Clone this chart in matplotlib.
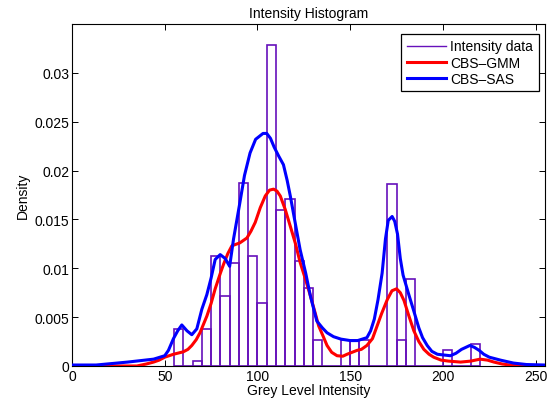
import matplotlib
matplotlib.use("Agg")
import matplotlib.pyplot as plt
from matplotlib.lines import Line2D

plt.rcParams['font.family'] = ['Liberation Sans', 'DejaVu Sans']

# Histogram: left bin edges (width 5) and densities
bin_left = [55, 60, 65, 70, 75, 80, 85, 90, 95, 100, 105, 110, 115, 120, 125, 130,
            135, 140, 145, 150, 155, 160, 165, 170, 175, 180, 185, 190, 195, 200,
            205, 210, 215]
bin_density = [0.0038, 0.0, 0.0005, 0.0038, 0.0113, 0.0072, 0.0105, 0.0187, 0.0113,
               0.0064, 0.0329, 0.0160, 0.0171, 0.0107, 0.0080, 0.0027,
               0.0, 0.0, 0.0027, 0.0027, 0.0027, 0.0, 0.0, 0.0186, 0.0027, 0.0089,
               0.0, 0.0, 0.0, 0.0016, 0.0, 0.0, 0.0022]
bin_width = 5

# CBS-GMM curve
gmm_x = [0, 35, 40, 44, 47, 50, 54.7, 60, 62.5, 64.6, 67, 69, 72.7, 75, 77.2, 80, 81.7,
         84, 86.2, 90.5, 94.3, 96.5, 98.8, 101.5, 104.2, 106.5, 108.7, 110.5, 112.3,
         115, 117.7, 120.5, 123, 126, 128.5, 131, 133, 135.5, 137.5, 140, 142.9, 146,
         148.3, 151, 153.7, 156, 159, 162, 164.5, 167, 170, 172.5, 175, 177, 179,
         181.5, 184.3, 187, 189.7, 192.5, 195, 199, 203, 209.5, 215, 220, 224, 227.5,
         232, 236, 242, 255]
gmm_y = [0, 0, 0.0002, 0.0004, 0.0006, 0.0009, 0.0012, 0.00145, 0.0017, 0.0021, 0.0027,
         0.0034, 0.0051, 0.0064, 0.0079, 0.0095, 0.0104, 0.0115, 0.0123, 0.0126, 0.0131,
         0.0138, 0.0147, 0.0162, 0.0174, 0.0180, 0.0181, 0.0179, 0.0174, 0.0160, 0.0143,
         0.0125, 0.0106, 0.0088, 0.0072, 0.0055, 0.0041, 0.0030, 0.0021, 0.0014, 0.00105,
         0.0010, 0.0012, 0.0014, 0.0016, 0.0017, 0.0021, 0.0028, 0.0041, 0.0054, 0.0068,
         0.0077, 0.0079, 0.0075, 0.0067, 0.0052, 0.0036, 0.0025, 0.0017, 0.0012, 0.0009,
         0.0006, 0.0005, 0.0004, 0.0005, 0.0007, 0.0006, 0.0004, 0.0002, 0.0001, 0, 0]

# CBS-SAS curve
sas_x = [0, 13, 30, 44, 50, 52, 54.7, 57, 59.2, 62, 64.6, 67.3, 70, 72.7, 75, 77.2, 79.9,
         82.6, 85, 87.1, 90.5, 93, 96, 99, 103, 105, 107, 109, 111.4, 114, 116, 117.7,
         120, 123, 126, 128.5, 130.5, 132, 135, 137.5, 141, 145, 150, 154, 159, 161, 163,
         165, 167.2, 169, 170.5, 172.6, 174, 175.5, 177, 178.5, 181.6, 184, 187, 189,
         191.5, 194, 197, 204, 207, 210, 214.5, 217, 219.5, 222, 225, 231, 238, 245, 255]
sas_y = [0.0001, 0.0001, 0.0004, 0.0007, 0.00105, 0.0016, 0.0028, 0.0036, 0.0042, 0.0036,
         0.0032, 0.0038, 0.0058, 0.0073, 0.0090, 0.0109, 0.0114, 0.0110, 0.0102, 0.0130,
         0.0167, 0.0195, 0.0218, 0.0232, 0.0238, 0.0238, 0.0233, 0.0224, 0.0215, 0.0206,
         0.0190, 0.0174, 0.0150, 0.0119, 0.0095, 0.0072, 0.0057, 0.0046, 0.0039, 0.0034,
         0.0030, 0.00275, 0.0026, 0.0026, 0.0029, 0.0036, 0.0048, 0.0068, 0.0095, 0.0130,
         0.0149, 0.0153, 0.0148, 0.0135, 0.0110, 0.0093, 0.0073, 0.0058, 0.0039, 0.0029,
         0.0021, 0.0015, 0.0012, 0.00105, 0.0013, 0.0017, 0.0021, 0.0019, 0.0016, 0.0012,
         0.0009, 0.0006, 0.0003, 0.00015, 0.0001]

x_ticks = [0, 50, 100, 150, 200, 250]
y_ticks = [0, 0.005, 0.01, 0.015, 0.02, 0.025, 0.03]
y_tick_labels = ['0', '0.005', '0.01', '0.015', '0.02', '0.025', '0.03']

hist_color = '#6611BB'
fs = 10

fig = plt.figure(figsize=(5.47, 4.02), dpi=100)
ax = fig.add_axes([0.1316, 0.0871, 0.8647, 0.8507])

ax.bar(bin_left, bin_density, width=bin_width, align='edge', fill=False,
       edgecolor=hist_color, linewidth=1.2, zorder=2)
ax.plot(gmm_x, gmm_y, color='#FF0000', linewidth=2.2, zorder=3)
ax.plot(sas_x, sas_y, color='#0000FF', linewidth=2.2, zorder=4)

ax.set_xlim(0, 255)
ax.set_ylim(0, 0.035)
ax.set_xticks(x_ticks)
ax.set_yticks(y_ticks)
ax.set_yticklabels(y_tick_labels)
ax.tick_params(direction='in', top=True, right=True, labelsize=fs, length=4.5,
               width=0.7, pad=2)
for s in ax.spines.values():
    s.set_linewidth(0.8)

ax.set_title('Intensity Histogram', fontsize=fs, pad=5)
ax.set_xlabel('Grey Level Intensity', fontsize=fs, labelpad=0)
ax.set_ylabel('Density', fontsize=fs, labelpad=3)

handles = [Line2D([], [], color=hist_color, linewidth=1.0),
           Line2D([], [], color='#FF0000', linewidth=2.2),
           Line2D([], [], color='#0000FF', linewidth=2.2)]
leg = ax.legend(handles, ['Intensity data', 'CBS\u2013GMM', 'CBS\u2013SAS'],
                loc='upper right', bbox_to_anchor=(0.987, 0.971), borderaxespad=0,
                fontsize=fs, frameon=True, fancybox=False,
                edgecolor='black', framealpha=1, borderpad=0.4, labelspacing=0.15,
                handlelength=2.8, handletextpad=0.35)
leg.get_frame().set_linewidth(0.9)

fig.savefig('out.png', dpi=100)
